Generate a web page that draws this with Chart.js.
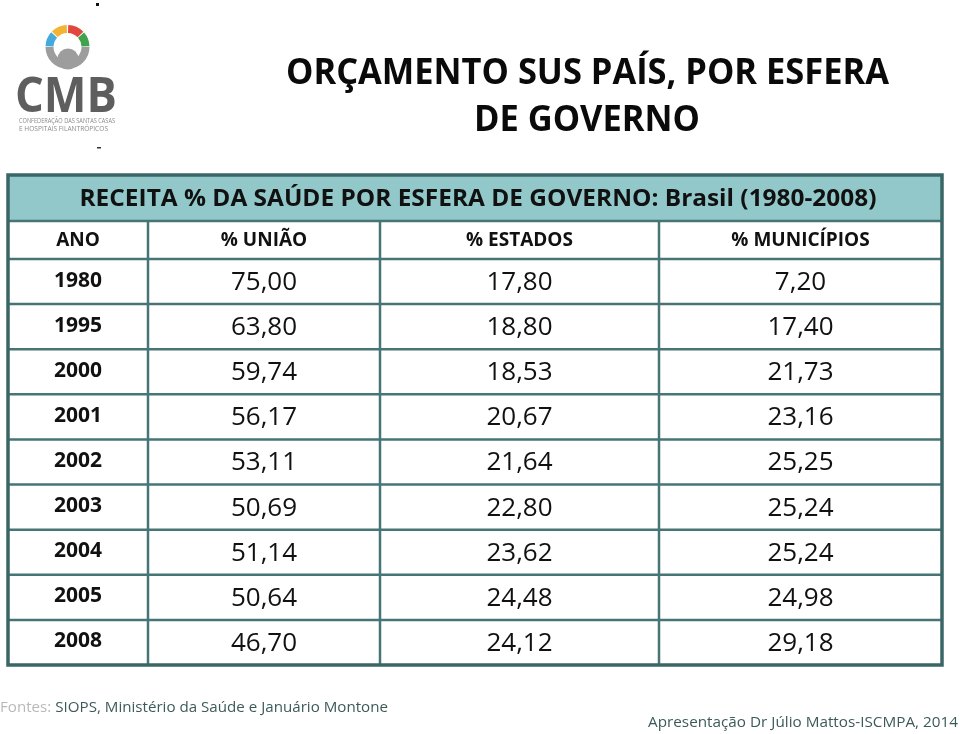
<!DOCTYPE html>
<html lang="pt-BR">
<head>
<meta charset="utf-8">
<title>Orçamento SUS país, por esfera de governo</title>
<script src="https://cdn.jsdelivr.net/npm/chart.js@4.4.1/dist/chart.umd.min.js"></script>
<style>
  html, body { margin: 0; padding: 0; background: #fff; }
  #wrap { position: relative; width: 960px; height: 734px; overflow: hidden; }
  #table { position: absolute; left: 0; top: 0; }
  #overlay { position: absolute; left: 0; top: 0; pointer-events: none; }
  #overlay text { font-family: "Open Sans", "Noto Sans", sans-serif; }
</style>
</head>
<body>
<div id="wrap">
  <canvas id="table" width="960" height="734"></canvas>
  <svg id="overlay" width="960" height="734" xmlns="http://www.w3.org/2000/svg">
    <rect x="96" y="3" width="3" height="3" fill="#111"/>
    <rect x="97" y="147" width="4" height="1.5" fill="#333"/>
    <g id="logo">
      <circle cx="68" cy="59" r="10.5" fill="#9d9d9d"/>
      <text x="15" y="112" font-size="48" font-weight="bold" fill="#5e5e5e" textLength="102" lengthAdjust="spacingAndGlyphs">CMB</text>
      <text x="19" y="123" font-size="6.5" fill="#8a8a8a" textLength="96" lengthAdjust="spacingAndGlyphs">CONFEDERAÇÃO DAS SANTAS CASAS</text>
      <text x="19" y="131" font-size="6.5" fill="#8a8a8a" textLength="89" lengthAdjust="spacingAndGlyphs">E HOSPITAIS FILANTRÓPICOS</text>
    </g>
    <text x="286" y="84" font-size="36" font-weight="bold" fill="#0a0a0a" textLength="603" lengthAdjust="spacingAndGlyphs">ORÇAMENTO SUS PAÍS, POR ESFERA</text>
    <text x="474" y="131" font-size="36" font-weight="bold" fill="#0a0a0a" textLength="226" lengthAdjust="spacingAndGlyphs">DE GOVERNO</text>
    <text x="0" y="712" font-size="15" textLength="388" lengthAdjust="spacingAndGlyphs"><tspan fill="#b9b9b9">Fontes: </tspan><tspan fill="#3d5a5a">SIOPS, Ministério da Saúde e Januário Montone</tspan></text>
    <text x="648" y="727" font-size="15" fill="#3d5a5a" textLength="310" lengthAdjust="spacingAndGlyphs">Apresentação Dr Júlio Mattos-ISCMPA, 2014</text>
  </svg>
</div>
<script>
(function () {
  "use strict";

  // data
  const CAPTION = "RECEITA % DA SAÚDE POR ESFERA DE GOVERNO: Brasil (1980-2008)";
  const COLUMNS = ["ANO", "% UNIÃO", "% ESTADOS", "% MUNICÍPIOS"];
  const YEARS = ["1980", "1995", "2000", "2001", "2002", "2003", "2004", "2005", "2008"];
  const UNIAO = [75.00, 63.80, 59.74, 56.17, 53.11, 50.69, 51.14, 50.64, 46.70];
  const ESTADOS = [17.80, 18.80, 18.53, 20.67, 21.64, 22.80, 23.62, 24.48, 24.12];
  const MUNICIPIOS = [7.20, 17.40, 21.73, 23.16, 25.25, 25.24, 25.24, 24.98, 29.18];

  // layout (table units = px)
  const COL_EDGES = [0, 140, 372, 651, 934];
  const HEAD_H = 38;
  const CAP_H = 46;
  const CAP_W = 797;
  const TEAL = "#92c8c9";
  const LINE = "#477575";
  const BORDER = "#3a6666";
  const FONT = '"Open Sans", "Noto Sans", sans-serif';

  // logo ring
  const logo = document.getElementById("logo");
  function arc(cx, cy, r, a0, a1) {
    const p = (a) => [cx + r * Math.cos(a * Math.PI / 180), cy + r * Math.sin(a * Math.PI / 180)];
    const s = p(a0), e = p(a1);
    return "M" + s[0].toFixed(2) + " " + s[1].toFixed(2) +
      " A" + r + " " + r + " 0 " + (a1 - a0 > 180 ? 1 : 0) + " 1 " + e[0].toFixed(2) + " " + e[1].toFixed(2);
  }
  [[0, 180, "#9d9d9d"], [182, 222, "#45a9dc"], [225, 268, "#f4b433"],
   [272, 316, "#e1473d"], [319, 358, "#3fa34d"]].forEach(function (s) {
    const path = document.createElementNS("http://www.w3.org/2000/svg", "path");
    path.setAttribute("d", arc(67.5, 47, 18, s[0], s[1]));
    path.setAttribute("fill", "none");
    path.setAttribute("stroke", s[2]);
    path.setAttribute("stroke-width", "8");
    logo.insertBefore(path, logo.firstChild);
  });

  const fmt = (v) => v.toFixed(2).replace(".", ",");
  const colMid = (c) => (COL_EDGES[c] + COL_EDGES[c + 1]) / 2;

  const series = [UNIAO, ESTADOS, MUNICIPIOS];

  // stretch a line of text to a given width (Calibri in the original is wider)
  function fitText(ctx, text, cx, cy, width) {
    const w = ctx.measureText(text).width;
    ctx.save();
    ctx.translate(cx, cy);
    ctx.scale(width / w, 1);
    ctx.fillText(text, 0, 0);
    ctx.restore();
  }

  const tablePlugin = {
    id: "tableGrid",
    beforeDraw(chart) {
      const { ctx, chartArea: a, scales: { x, y } } = chart;
      const top = a.top - HEAD_H - CAP_H;
      const headTop = a.top - HEAD_H;
      ctx.save();
      ctx.fillStyle = TEAL;
      ctx.fillRect(a.left, top, a.right - a.left, CAP_H);

      ctx.strokeStyle = LINE;
      ctx.lineWidth = 2.5;
      ctx.beginPath();
      // row boundaries from the category scale
      ctx.moveTo(a.left, headTop);
      ctx.lineTo(a.right, headTop);
      for (let i = 0; i < YEARS.length; i++) {
        const yy = y.getPixelForValue(i - 0.5);
        ctx.moveTo(a.left, yy);
        ctx.lineTo(a.right, yy);
      }
      // column boundaries from the x scale
      for (let c = 1; c < COL_EDGES.length - 1; c++) {
        const xx = x.getPixelForValue(COL_EDGES[c]);
        ctx.moveTo(xx, headTop);
        ctx.lineTo(xx, a.bottom);
      }
      ctx.stroke();

      ctx.strokeStyle = BORDER;
      ctx.lineWidth = 3.5;
      ctx.strokeRect(a.left, top, a.right - a.left, a.bottom - top);
      ctx.restore();
    },
    afterDatasetsDraw(chart) {
      const { ctx, chartArea: a, scales: { x, y } } = chart;
      const capMid = a.top - HEAD_H - CAP_H / 2;
      const headMid = a.top - HEAD_H / 2;
      ctx.save();
      ctx.fillStyle = "#111";
      ctx.textAlign = "center";
      ctx.textBaseline = "middle";

      ctx.font = "bold 23px " + FONT;
      fitText(ctx, CAPTION, (a.left + a.right) / 2 + 3, capMid + 1, CAP_W);

      ctx.font = "bold 19px " + FONT;
      COLUMNS.forEach((label, c) => {
        ctx.fillText(label, x.getPixelForValue(colMid(c)), headMid + 1);
      });

      ctx.font = "bold 21px " + FONT;
      YEARS.forEach((yr, i) => {
        ctx.fillText(yr, x.getPixelForValue(colMid(0)), y.getPixelForValue(i) - 1);
      });

      ctx.font = "26px " + FONT;
      chart.data.datasets.forEach((ds, d) => {
        chart.getDatasetMeta(d).data.forEach((pt, i) => {
          ctx.fillText(fmt(series[d][i]), pt.x, pt.y + 1);
        });
      });
      ctx.restore();
    }
  };

  new Chart(document.getElementById("table"), {
    type: "scatter",
    data: {
      labels: YEARS,
      datasets: series.map((vals, d) => ({
        label: COLUMNS[d + 1],
        data: vals.map((v, i) => ({ x: colMid(d + 1), y: YEARS[i] })),
        pointRadius: 0,
        pointHoverRadius: 0
      }))
    },
    options: {
      responsive: false,
      animation: false,
      events: [],
      layout: { padding: { left: 8, right: 18, top: 259, bottom: 69 } },
      scales: {
        x: { type: "linear", min: COL_EDGES[0], max: COL_EDGES[COL_EDGES.length - 1], display: false },
        y: { type: "category", labels: YEARS, offset: true, display: false }
      },
      plugins: { legend: { display: false }, tooltip: { enabled: false }, title: { display: false } }
    },
    plugins: [tablePlugin]
  });
})();
</script>
</body>
</html>
